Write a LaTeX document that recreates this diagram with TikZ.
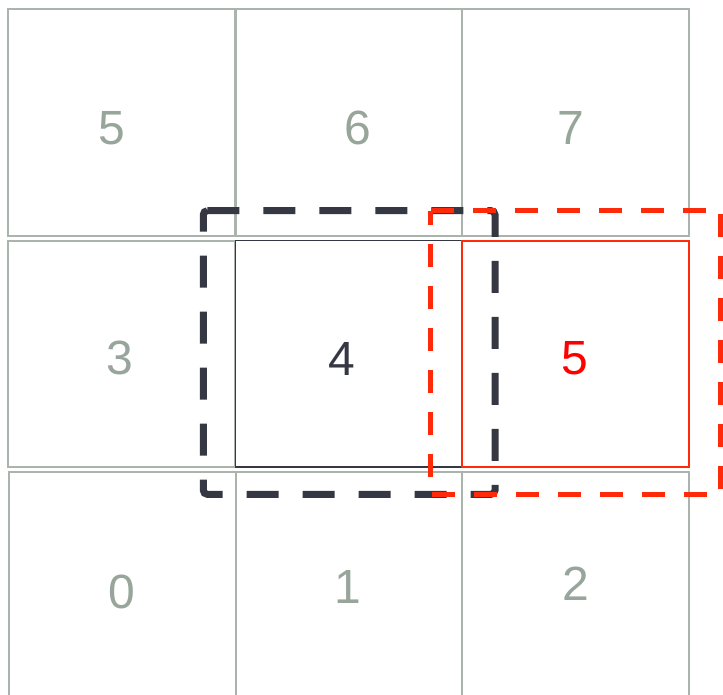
\documentclass[tikz,border=0pt]{standalone}
\usepackage{fontspec}
\setmainfont{Liberation Sans}
\definecolor{cellgray}{RGB}{170,180,173}
\definecolor{txtgray}{RGB}{152,165,155}
\definecolor{darkc}{RGB}{53,55,67}
\definecolor{redc}{RGB}{255,42,10}
\definecolor{redtxt}{RGB}{255,0,0}
\tikzset{
  cell/.style={draw=cellgray, line width=2pt, rectangle, inner sep=0pt},
  darkcell/.style={draw=darkc, line width=1.3pt, rectangle, inner sep=0pt},
  redcell/.style={draw=redc, line width=1.6pt, rectangle, inner sep=0pt},
  num/.style={inner sep=0pt, font=\fontsize{48}{50}\selectfont, text=txtgray},
  darkdash/.style={draw=darkc, line width=7pt, dash pattern=on 32pt off 24pt, rounded corners=4pt},
  reddash/.style={draw=redc, line width=5.5pt, dash pattern=on 23pt off 19pt, line join=miter}
}
\begin{document}
\begin{tikzpicture}[x=1pt,y=-1pt]
\clip (0,0) rectangle (723,694);
\fill[white] (0,0) rectangle (723,694);
% top row
\node[cell, minimum width=227pt, minimum height=226.5pt] (t0) at (121.8,122.25) {};
\node[cell, minimum width=226pt, minimum height=226.5pt] (t1) at (349,122.25) {};
\node[cell, minimum width=227pt, minimum height=226.5pt] (t2) at (575.5,122.25) {};
% middle row
\node[cell, minimum width=227pt, minimum height=226.3pt] (m0) at (121.8,353.85) {};
% bottom row
\node[cell, minimum width=227pt, minimum height=248.3pt] (b0) at (122,595.85) {};
\node[cell, minimum width=226.5pt, minimum height=248.3pt] (b1) at (348.75,595.85) {};
\node[cell, minimum width=227pt, minimum height=248.3pt] (b2) at (575.5,595.85) {};
% highlighted cells
\node[darkcell, minimum width=226.4pt, minimum height=226.3pt] (m1) at (348.5,353.85) {};
\node[redcell, minimum width=226.7pt, minimum height=226.3pt] (m2) at (575.35,353.85) {};
% numbers
\node[num] (n5a) at (112,128.3) {5};
\node[num] (n6) at (357.7,128) {6};
\node[num] (n7) at (571.3,128) {7};
\node[num] (n3) at (120,358.3) {3};
\node[num, text=darkc] (n4) at (342.3,358.7) {4};
\node[num, text=redtxt] (n5b) at (575,358.7) {5};
\node[num] (n0) at (122,591.7) {0};
\node[num] (n1) at (348,586.7) {1};
\node[num] (n2) at (576,584) {2};
% dashed windows
\coordinate (d1) at (203.3,210.7);
\coordinate (d2) at (495,210.7);
\coordinate (d3) at (495,494.3);
\coordinate (d4) at (203.3,494.3);
\draw[darkdash] (d1) -- (d2) -- (d3) -- (d4) -- cycle;
\coordinate (r1) at (430.7,210.7);
\coordinate (r2) at (721,210.7);
\coordinate (r3) at (721,494.5);
\coordinate (r4) at (430.7,494.5);
\draw[reddash] (r1) -- (r2) -- (r3) -- (r4) -- cycle;
\end{tikzpicture}
\end{document}
